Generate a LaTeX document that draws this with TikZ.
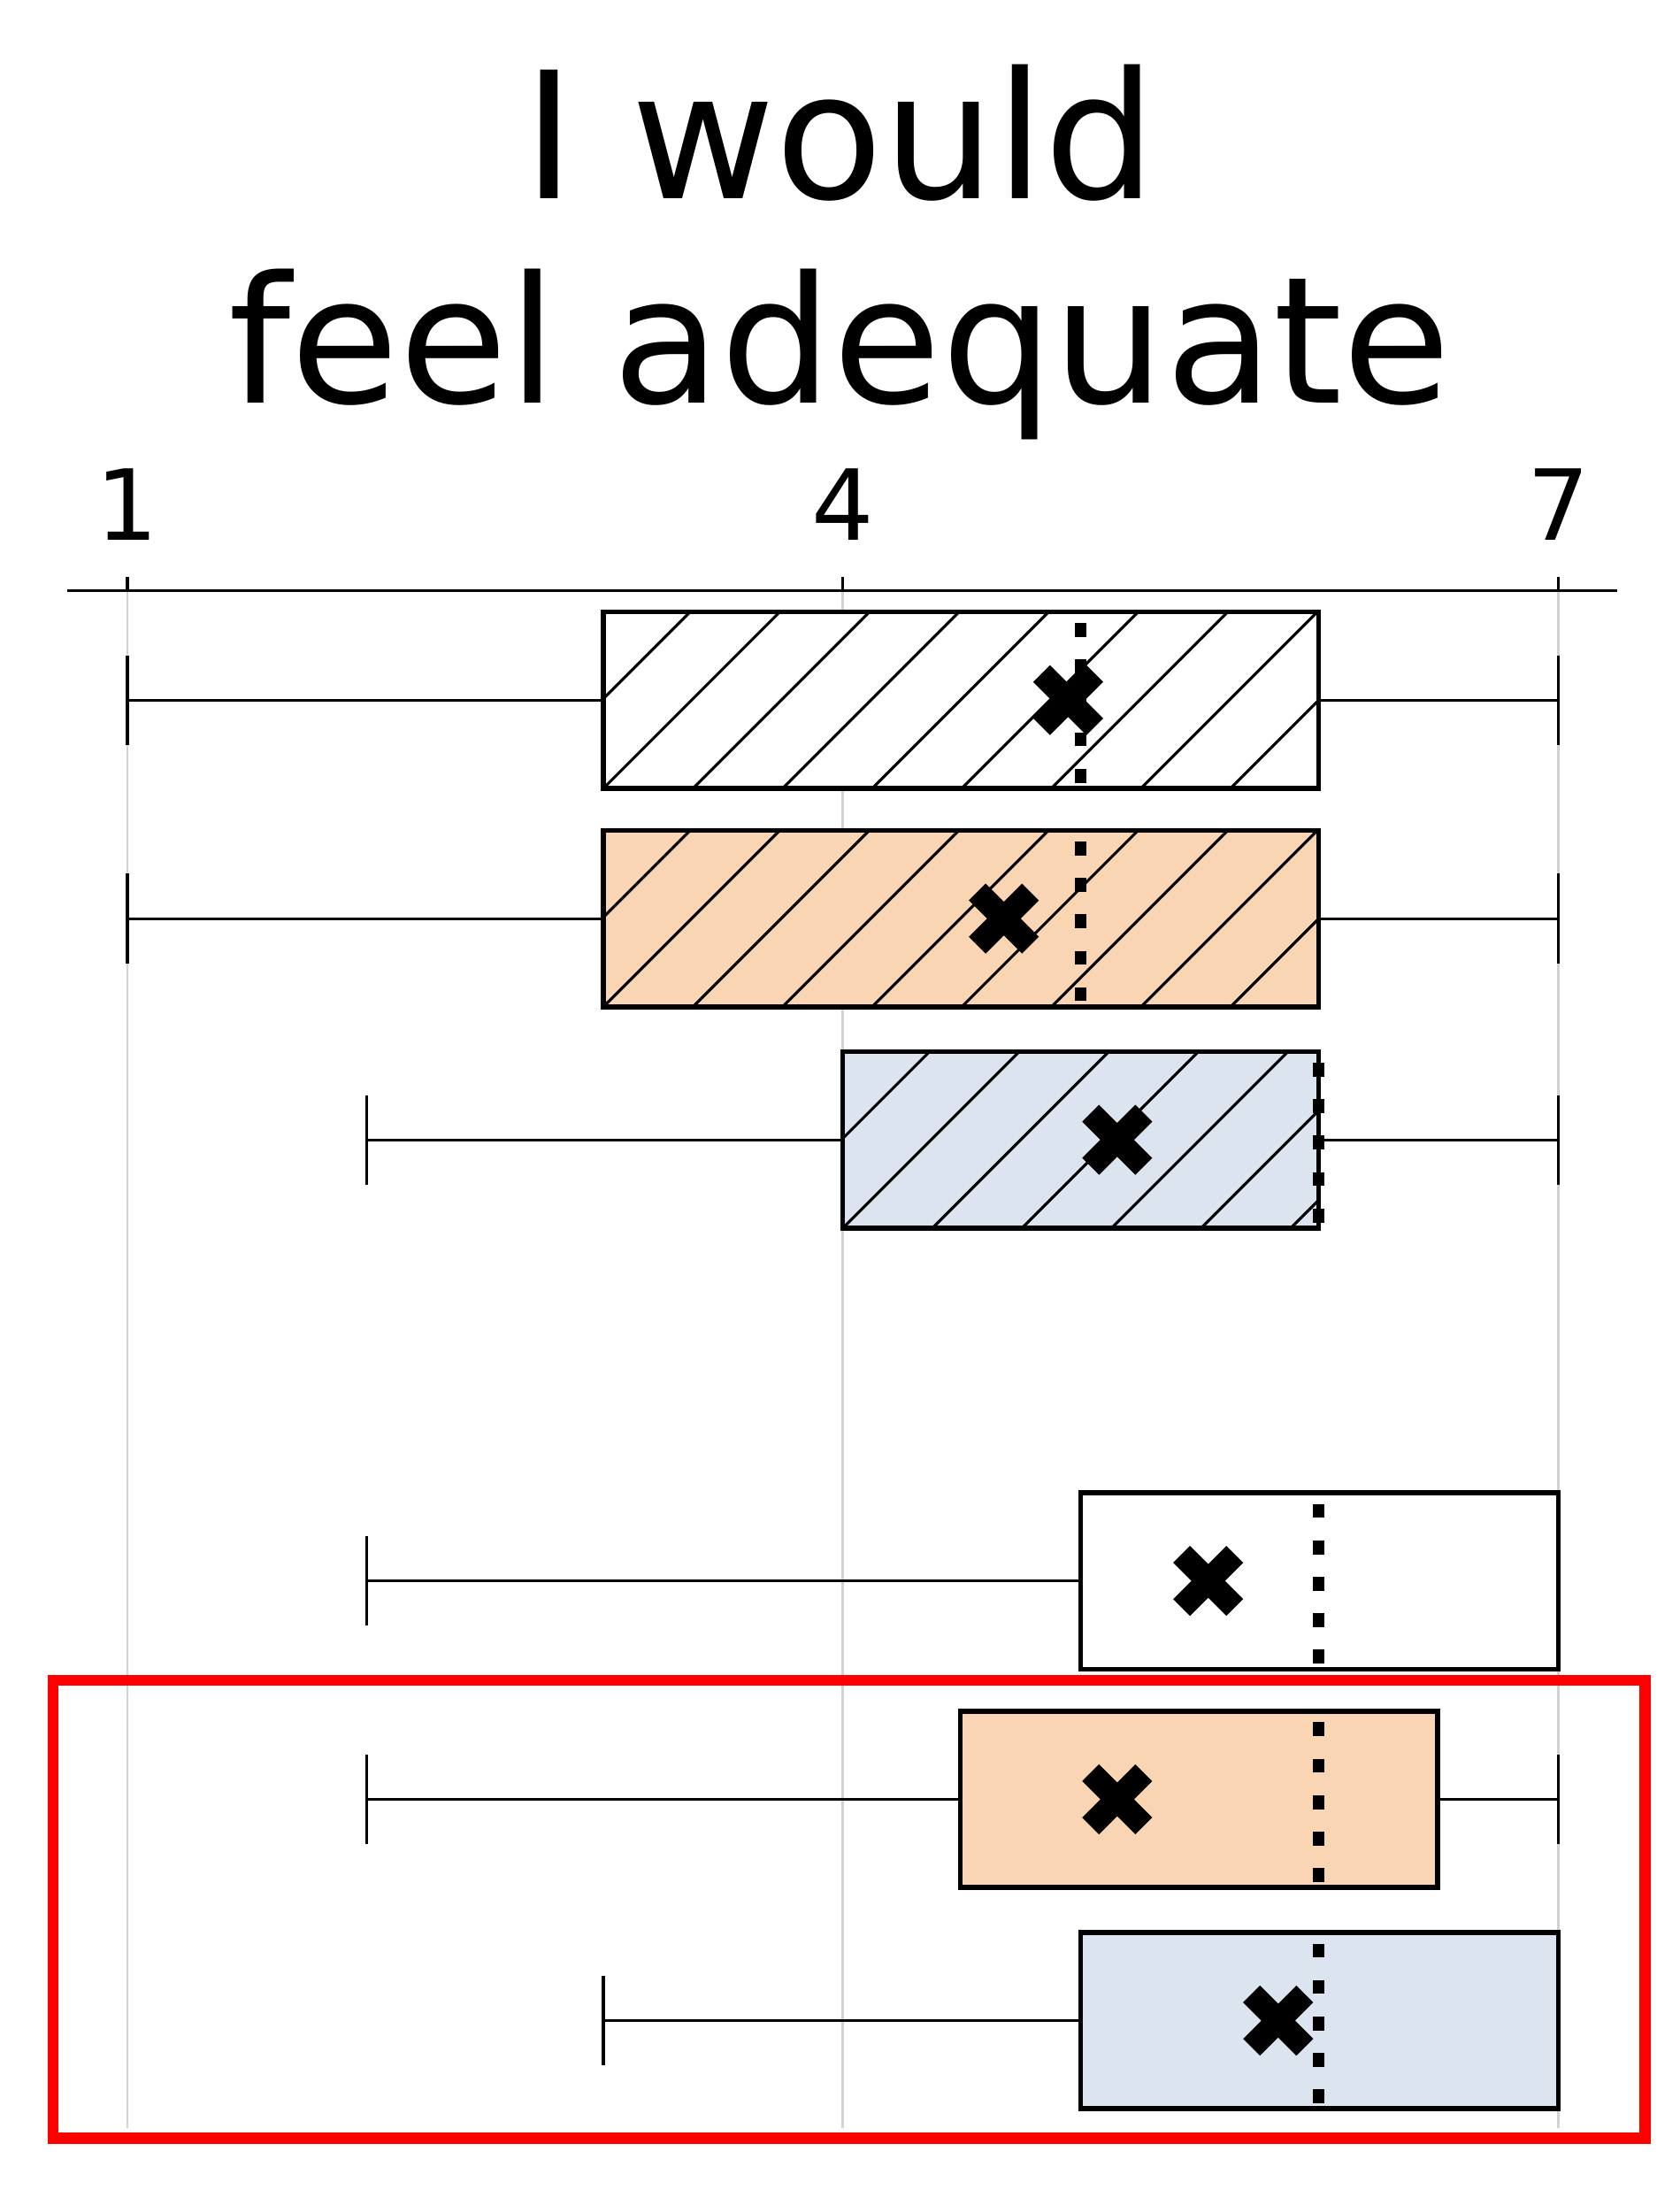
\documentclass[tikz,border=0pt]{standalone}
\usepackage{fontspec}
\setmainfont{DejaVu Sans}
\definecolor{orng}{RGB}{250,213,180}
\definecolor{lblue}{RGB}{220,228,240}
\begin{document}
\begin{tikzpicture}[x=1pt,y=-1pt,
  boxst/.style={draw=black,line width=3.5pt},
  whisk/.style={line width=2pt},
  meanx/.style={line width=17pt},
  med/.style={line width=8pt,dash pattern=on 10pt off 16pt},
  hatchl/.style={line width=2pt}]
\useasboundingbox (0,0) rectangle (1200,1564);
\fill[white] (0,0) rectangle (1200,1564);
\node[font=\fontsize{126}{146}\selectfont,align=center] (title) at (600,180) {I would\\feel adequate};
\foreach \v/\x in {1/91,4/602,7/1113}{
  \draw[gray!35,line width=1.5pt] (\x,422) -- (\x,1520);
  \draw[line width=2pt] (\x,422) -- (\x,412);
  \node[font=\fontsize{70}{80}\selectfont] (t\v) at (\x,360) {\v};
}
\draw[line width=2pt] (48,422) -- (1155,422);
\newcommand\bplot[9]{%
  \pgfmathsetmacro\yc{#3+63}\pgfmathsetmacro\yb{#3+126}%
  \draw[whisk] (#5,\yc) -- (#1,\yc) (#2,\yc) -- (#6,\yc);
  \draw[whisk] (#5,\yc-32) -- (#5,\yc+32) (#6,\yc-32) -- (#6,\yc+32);
  \fill[#4] (#1,#3) rectangle (#2,\yb);
  \ifnum#9=1
   \begin{scope}
    \clip (#1,#3) rectangle (#2,\yb);
    \foreach \k in {-4,...,20}{\draw[hatchl] (#1+\k*64,\yb) -- ++(126,-126);}
   \end{scope}
  \fi
  \draw[med] (#8,#3+8) -- (#8,\yb);
  \draw[boxst] (#1,#3) rectangle (#2,\yb);
  \draw[meanx] (#7-19,\yc-19) -- (#7+19,\yc+19) (#7-19,\yc+19) -- (#7+19,\yc-19);
}
\bplot{431}{942}{437}{white}{91}{1113}{763}{772}{1}
\bplot{431}{942}{593}{orng}{91}{1113}{717}{772}{1}
\bplot{602}{942}{751}{lblue}{262}{1113}{798}{942}{1}
\bplot{772}{1113}{1066}{white}{262}{772}{863}{942}{0}
\bplot{686}{1027}{1222}{orng}{262}{1113}{798}{942}{0}
\bplot{772}{1113}{1380}{lblue}{431}{772}{913}{942}{0}
\draw[red,line width=8pt] (38,1200) rectangle (1175,1527);
\end{tikzpicture}
\end{document}
